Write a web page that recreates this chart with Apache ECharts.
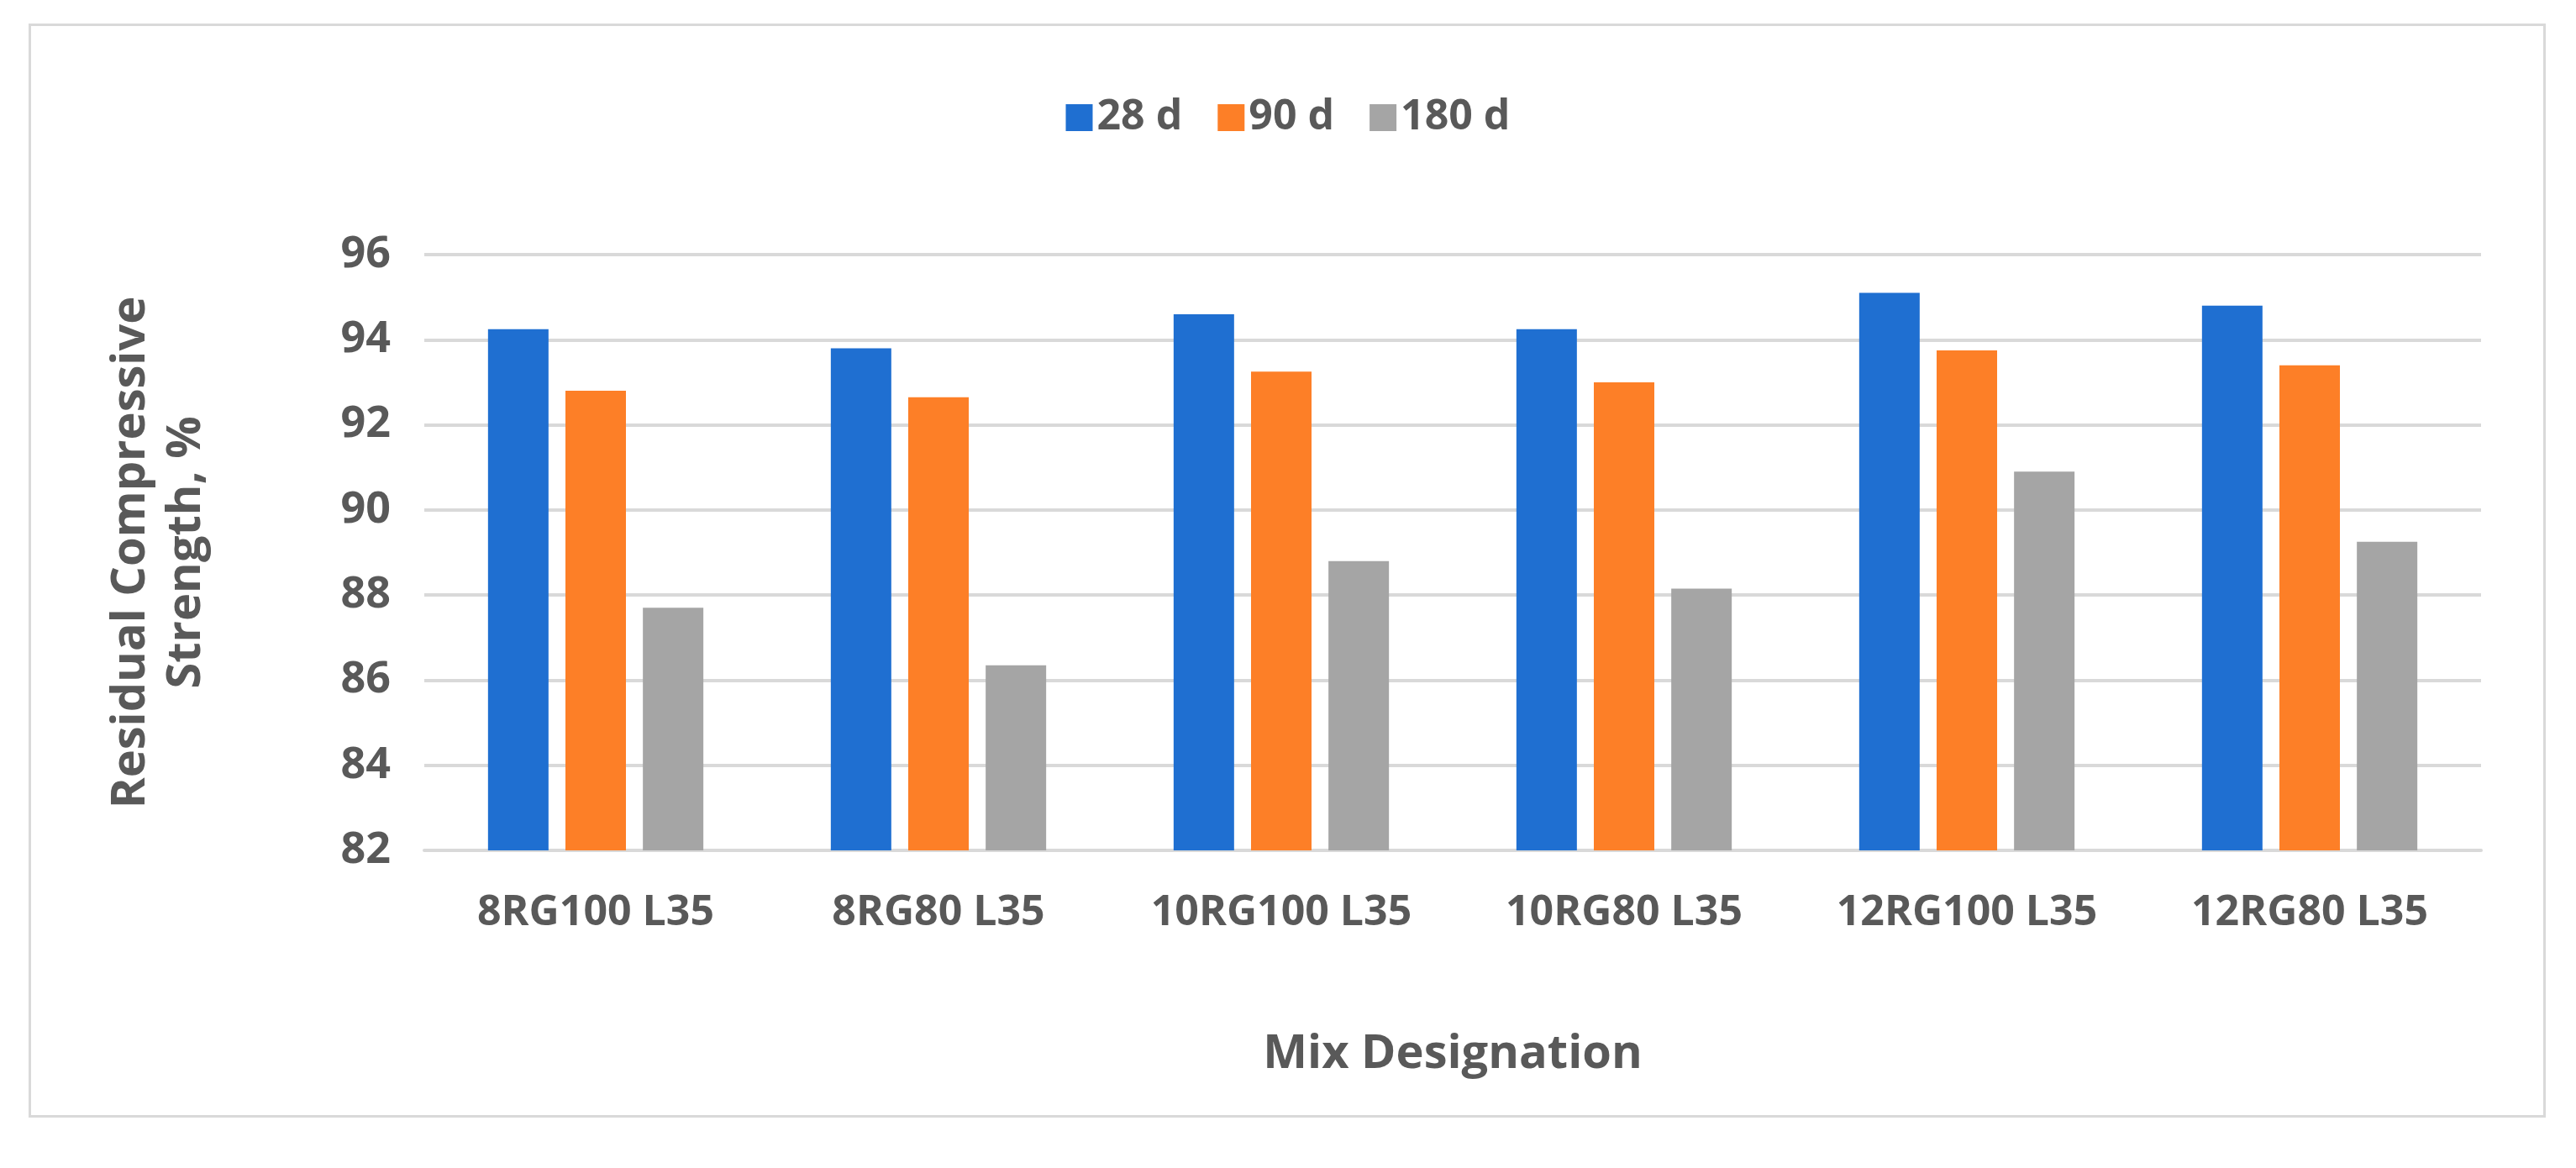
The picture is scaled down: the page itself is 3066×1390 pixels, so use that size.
<!DOCTYPE html>
<html><head><meta charset="utf-8">
<script src="https://cdn.jsdelivr.net/npm/echarts@6/dist/echarts.min.js"></script>
<style>html,body{margin:0;background:#fff}#frame{position:absolute;left:34px;top:28px;width:2996px;height:1302px;border:3px solid #d9d9d9;box-sizing:border-box}#c{width:3066px;height:1390px}</style>
</head><body><div id="frame"></div><div id="c"></div>
<script>
const categories=['8RG100 L35','8RG80 L35','10RG100 L35','10RG80 L35','12RG100 L35','12RG80 L35'];
const d28=[94.25,93.8,94.6,94.25,95.1,94.8];
const d90=[92.8,92.65,93.25,93.0,93.75,93.4];
const d180=[87.7,86.35,88.8,88.15,90.9,89.25];
const yTicks=[82,84,86,88,90,92,94,96];
const font='"Open Sans", "Liberation Sans", sans-serif';
const grey='#595959';
const chart=echarts.init(document.getElementById('c'));
const mk=(name,data,color)=>({name,type:'bar',data,barWidth:72,barGap:'28%',itemStyle:{color}});
chart.setOption({
 animation:false,
 legend:{top:110,left:'center',itemWidth:32,itemHeight:32,itemGap:42,icon:'rect',
  textStyle:{fontFamily:font,fontWeight:'bold',fontSize:50,color:grey}},
 grid:{left:505,right:113,top:303,bottom:378},
 xAxis:{type:'category',data:categories,name:'Mix Designation',nameLocation:'middle',nameGap:215,
  nameTextStyle:{fontFamily:font,fontWeight:'bold',fontSize:56,color:grey},
  axisLine:{lineStyle:{color:'#d9d9d9',width:4}},axisTick:{show:false},
  axisLabel:{fontFamily:font,fontWeight:'bold',fontSize:50,color:grey,margin:50}},
 yAxis:{type:'value',min:yTicks[0],max:yTicks[yTicks.length-1],interval:2,
  name:'Residual Compressive\nStrength, %',nameLocation:'middle',nameGap:250,
  nameTextStyle:{fontFamily:font,fontWeight:'bold',fontSize:56,color:grey,lineHeight:66},
  axisLine:{show:false},axisTick:{show:false},
  splitLine:{lineStyle:{color:'#d9d9d9',width:4}},
  axisLabel:{fontFamily:font,fontWeight:'bold',fontSize:52,color:grey,margin:40}},
 series:[mk('28 d',d28,'#1f6fd1'),mk('90 d',d90,'#fd7f27'),mk('180 d',d180,'#a5a5a5')]
});
</script></body></html>
